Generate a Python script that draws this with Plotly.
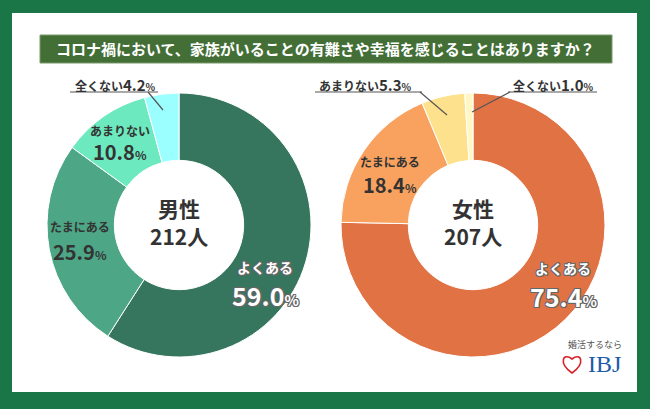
import plotly.graph_objects as go

W, H = 650, 409
categories = ["よくある", "たまにある", "あまりない", "全くない"]
male_values = [59.0, 25.9, 10.8, 4.2]
female_values = [75.4, 18.4, 5.3, 1.0]
male_colors = ["#36765F", "#4DA686", "#6DE9BF", "#9BFFFF"]
female_colors = ["#E17244", "#F9A25F", "#FEE18C", "#FFF7C4"]
title = "コロナ禍において、家族がいることの有難さや幸福を感じることはありますか？"
male_center = ["男性", "212人"]
female_center = ["女性", "207人"]

FONT = "Noto Sans CJK JP"

def px(x):
    return x / W

def py(y):
    return 1 - y / H

fig = go.Figure()
for vals, cols, dom in [(male_values, male_colors, [px(47), px(311)]),
                        (female_values, female_colors, [px(341), px(605)])]:
    fig.add_trace(go.Pie(
        labels=categories, values=vals, hole=0.49, sort=False,
        direction="clockwise", rotation=0,
        marker=dict(colors=cols, line=dict(color="white", width=1)),
        textinfo="none", hoverinfo="label+value", showlegend=False,
        domain=dict(x=dom, y=[py(357), py(93)]),
    ))

shapes = []
# green frame and white panel
shapes.append(dict(type="rect", xref="paper", yref="paper", x0=0, x1=1, y0=0, y1=1,
                   fillcolor="#1A7646", line=dict(width=0), layer="below"))
shapes.append(dict(type="rect", xref="paper", yref="paper", x0=px(12), x1=px(637),
                   y0=py(392), y1=py(13), fillcolor="white", line=dict(width=0), layer="below"))
# title bar
shapes.append(dict(type="rect", xref="paper", yref="paper", x0=px(40), x1=px(612),
                   y0=py(63), y1=py(35), fillcolor="#436F37",
                   line=dict(color="#7A9A6A", width=1), layer="below"))

def line(x0, y0, x1, y1):
    shapes.append(dict(type="line", xref="paper", yref="paper", x0=px(x0), y0=py(y0),
                       x1=px(x1), y1=py(y1), line=dict(color="#555555", width=1.2)))

# leader lines
line(70, 92, 158, 92); line(148, 92, 163, 110)
line(315, 92, 422, 92); line(420, 92, 447, 115)
line(508, 92, 597, 92); line(510, 92, 472, 112)

# heart logo
hx, hy = 572, 364
heart = (f"M {px(hx)} {py(hy+9)} "
         f"C {px(hx-14)} {py(hy-1)} {px(hx-9)} {py(hy-12)} {px(hx)} {py(hy-5)} "
         f"C {px(hx+9)} {py(hy-12)} {px(hx+14)} {py(hy-1)} {px(hx)} {py(hy+9)} Z")
shapes.append(dict(type="path", xref="paper", yref="paper", path=heart,
                   line=dict(color="#D8232A", width=1.6)))

ann = []
def text(x, y, t, size, color="#333333", bold=True, shadow=None, family=FONT):
    f = dict(family=family, size=size, color=color, weight="bold" if bold else "normal")
    if shadow:
        f["shadow"] = shadow
    ann.append(dict(x=px(x), y=py(y), xref="paper", yref="paper", text=t, showarrow=False,
                    font=f, xanchor="center", yanchor="middle"))

OUT = "-1px -1px 0 #666, 1px -1px 0 #666, -1px 1px 0 #666, 1px 1px 0 #666, 0 1px 0 #666, 0 -1px 0 #666, 1px 0 0 #666, -1px 0 0 #666"

def pct(v, big):
    return f"{v:.1f}<span style='font-size:{int(big*0.62)}px'>%</span>"

def small(cat, v):
    return cat + f"<span style='font-size:15px'>{v:.1f}</span><span style='font-size:10px'>%</span>"

text(326, 49, title, 15, color="white")

# male labels
text(179, 208, male_center[0], 21)
text(179, 236, male_center[1], 21)
text(265, 267, categories[0], 14, color="white", shadow=OUT)
text(265, 295, pct(male_values[0], 25), 25, color="white", shadow=OUT)
text(80, 226, categories[1], 12)
text(80, 251, pct(male_values[1], 20), 20)
text(120, 130, categories[2], 12)
text(120, 152, pct(male_values[2], 20), 20)
text(116, 84, small(categories[3], male_values[3]), 12)

# female labels
text(473, 208, female_center[0], 21)
text(473, 236, female_center[1], 21)
text(563, 268, categories[0], 14, color="white", shadow=OUT)
text(563, 296, pct(female_values[0], 25), 25, color="white", shadow=OUT)
text(390, 161, categories[1], 12)
text(390, 185, pct(female_values[1], 20), 20)
text(366, 84, small(categories[2], female_values[2]), 12)
text(553, 84, small(categories[3], female_values[3]), 12)

# logo text
text(595, 344, "婚活するなら", 9, color="#555555", bold=False)
text(604, 364, "IBJ", 24, color="#1D5BAA", bold=False, family="Liberation Serif")

fig.update_layout(width=W, height=H, margin=dict(l=0, r=0, t=0, b=0),
                  paper_bgcolor="white", plot_bgcolor="white",
                  shapes=shapes, annotations=ann)
fig.write_html("out.html", config={"displayModeBar": False},
               post_script="document.body.style.margin='0';document.body.style.overflow='hidden';")
